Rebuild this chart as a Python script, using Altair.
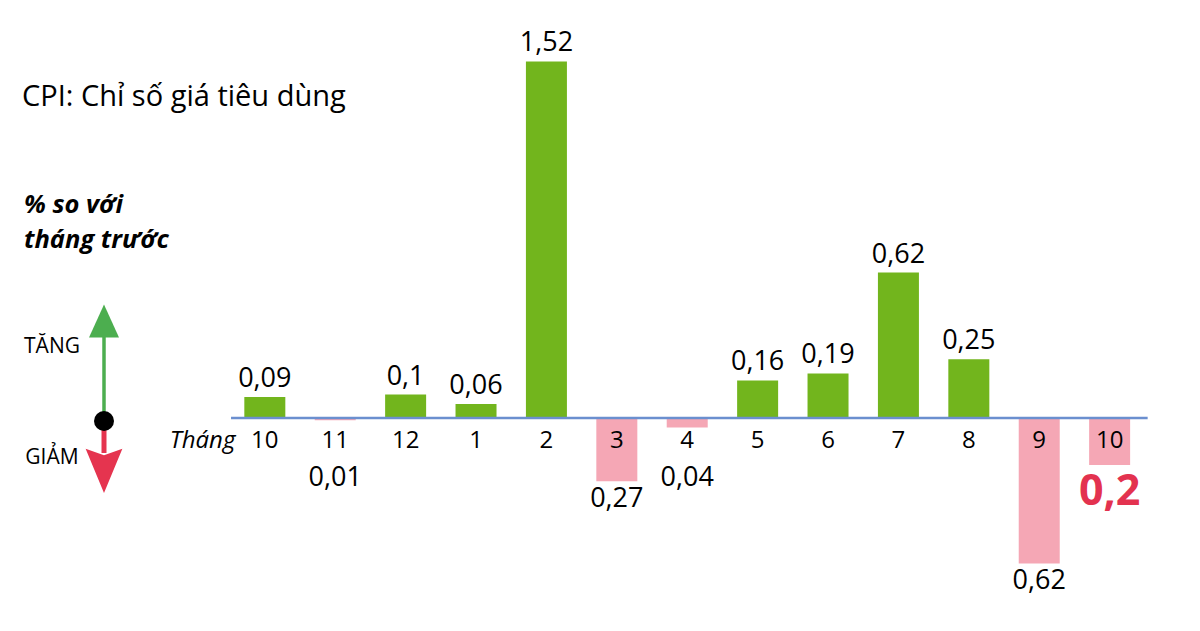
import altair as alt
import pandas as pd

months = ["10", "11", "12", "1", "2", "3", "4", "5", "6", "7", "8", "9", "10"]
values = [0.09, -0.01, 0.1, 0.06, 1.52, -0.27, -0.04, 0.16, 0.19, 0.62, 0.25, -0.62, -0.2]
highlight = [False] * 12 + [True]

GREEN = "#72b51d"
PINK = "#f5a7b5"
RED = "#e3324f"
FONT = "Open Sans"

df = pd.DataFrame({
    "idx": list(range(len(months))),
    "month": months,
    "value": values,
    "hl": highlight,
})
df["label"] = [str(abs(v)).replace(".", ",") for v in values]
df["sign"] = ["up" if v >= 0 else "down" for v in values]
df["label_y"] = [v if v >= 0 else min(v, -0.18) for v in values]
df["zero"] = 0.0

xs = alt.Scale(domain=[-3.577, 13.099], nice=False, zero=False)
ys = alt.Scale(domain=[-0.874, 1.748], nice=False, zero=False)

X = alt.X("idx:Q", scale=xs, axis=None)

bars = alt.Chart(df).mark_bar(size=41).encode(
    x=X,
    y=alt.Y("value:Q", scale=ys, axis=None),
    y2="zero:Q",
    color=alt.Color("sign:N", scale=alt.Scale(domain=["up", "down"], range=[GREEN, PINK]), legend=None),
)

base_df = pd.DataFrame({"x0": [-0.48], "x1": [12.54], "y": [0.0]})
baseline = alt.Chart(base_df).mark_rule(color="#6b8fcf", strokeWidth=2.5).encode(
    x=alt.X("x0:Q", scale=xs, axis=None),
    x2="x1:Q",
    y=alt.Y("y:Q", scale=ys, axis=None),
)

month_text = alt.Chart(df).mark_text(font=FONT, fontSize=24, color="black", baseline="middle", dy=23).encode(
    x=X,
    y=alt.Y("zero:Q", scale=ys, axis=None),
    text="month:N",
)

pos_labels = alt.Chart(df[df["value"] >= 0]).mark_text(font=FONT, fontSize=27, color="black", baseline="middle", dy=-18).encode(
    x=X, y=alt.Y("label_y:Q", scale=ys, axis=None), text="label:N"
)
neg_labels = alt.Chart(df[(df["value"] < 0) & (~df["hl"])]).mark_text(font=FONT, fontSize=27, color="black", baseline="middle", dy=18).encode(
    x=X, y=alt.Y("label_y:Q", scale=ys, axis=None), text="label:N"
)
hl_label = alt.Chart(df[df["hl"]]).mark_text(font=FONT, fontSize=43, fontWeight="bold", color=RED, baseline="middle", dy=27).encode(
    x=X, y=alt.Y("label_y:Q", scale=ys, axis=None), text="label:N"
)


def note(txt, x, y, size, align="left", style="normal", weight="normal"):
    return alt.Chart(pd.DataFrame({"t": [txt]})).mark_text(
        font=FONT, fontSize=size, fontStyle=style, fontWeight=weight,
        color="black", baseline="middle", align=align,
    ).encode(x=alt.value(x), y=alt.value(y), text="t:N")


thang = note("Tháng", 194.5, 433, 24, align="center", style="italic")
title1 = note("CPI: Chỉ số giá tiêu dùng", 14, 89, 29)
sub1 = note("% so với", 16, 197, 25.5, style="italic", weight="bold")
sub2 = note("tháng trước", 16, 232, 25.5, style="italic", weight="bold")
tang = note("TĂNG", 44, 339, 21, align="center")
giam = note("GIẢM", 44, 450, 21, align="center")

ARROW_GREEN = "#4cae4f"
ARROW_RED = "#e5344f"
one = pd.DataFrame({"a": [1]})
green_shaft = alt.Chart(one).mark_rule(color=ARROW_GREEN, strokeWidth=3.5).encode(
    x=alt.value(96), y=alt.value(325), y2=alt.value(413)
)
green_head = alt.Chart(one).mark_point(
    shape="M-1,1.1L0,-1.1L1,1.1Z", filled=True, opacity=1, color=ARROW_GREEN, size=900
).encode(x=alt.value(96), y=alt.value(313))
red_shaft = alt.Chart(one).mark_rule(color=ARROW_RED, strokeWidth=5).encode(
    x=alt.value(96), y=alt.value(413), y2=alt.value(445)
)
red_head = alt.Chart(one).mark_point(
    shape="M-1,-1.1L0,-0.75L1,-1.1L0,1.3Z", filled=True, opacity=1, color=ARROW_RED, size=1350
).encode(x=alt.value(96), y=alt.value(461))
dot = alt.Chart(one).mark_point(
    shape="circle", filled=True, opacity=1, color="black", size=400
).encode(x=alt.value(96), y=alt.value(413))

chart = alt.layer(
    bars, baseline, month_text, pos_labels, neg_labels, hl_label, thang,
    title1, sub1, sub2, tang, giam, green_shaft, green_head, red_shaft, red_head, dot,
).properties(
    width=1184, height=615,
    autosize=alt.AutoSizeParams(type="fit", contains="padding"),
    padding=0,
    background="white",
).configure_view(stroke=None)

chart.save("out.html", embed_options={"renderer": "svg", "actions": False})
